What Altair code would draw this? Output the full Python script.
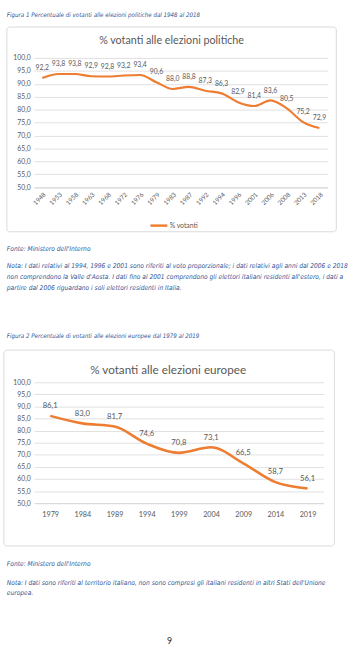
import altair as alt
import pandas as pd

# ---------------- data ----------------
anni_politiche = ["1948", "1953", "1958", "1963", "1968", "1972", "1976", "1979", "1983",
                  "1987", "1992", "1994", "1996", "2001", "2006", "2008", "2013", "2018"]
votanti_politiche = [92.2, 93.8, 93.8, 92.9, 92.8, 93.2, 93.4, 90.6, 88.0,
                     88.8, 87.3, 86.3, 82.9, 81.4, 83.6, 80.5, 75.2, 72.9]

anni_europee = ["1979", "1984", "1989", "1994", "1999", "2004", "2009", "2014", "2019"]
votanti_europee = [86.1, 83.0, 81.7, 74.6, 70.8, 73.1, 66.5, 58.7, 56.1]

serie = "% votanti"
y_ticks = [50, 55, 60, 65, 70, 75, 80, 85, 90, 95, 100]

didascalia1 = "Figura 1 Percentuale di votanti alle elezioni politiche dal 1948 al 2018"
titolo1 = "% votanti alle elezioni politiche"
fonte = "Fonte: Ministero dell'Interno"
nota1 = [
    "Nota: I dati relativi al 1994, 1996 e 2001 sono riferiti al voto proporzionale; i dati relativi agli anni dal 2006 e 2018",
    "non comprendono la Valle d'Aosta. I dati fino al 2001 comprendono gli elettori italiani residenti all'estero, i dati a",
    "partire dal 2006 riguardano i soli elettori residenti in Italia.",
]
didascalia2 = "Figura 2 Percentuale di votanti alle elezioni europee dal 1979 al 2019"
titolo2 = "% votanti alle elezioni europee"
nota2 = [
    "Nota: I dati sono riferiti al territorio italiano, non sono compresi gli italiani residenti in altri Stati dell'Unione",
    "europea.",
]
numero_pagina = "9"

# ---------------- styles ----------------
GRIGIO = "#595959"
GRIGLIA = "#D9D9D9"
BLU_TESTO = "#2F5496"
FONT_CHART = "Lato"
FONT_TESTO = "Liberation Sans Narrow, DejaVu Sans Condensed, Liberation Sans, sans-serif"
LABEL_EXPR = "replace(format(datum.value, '.1f'), '.', ',')"


def testo(t, x, y, size, color, font, style="normal", align="left", weight="normal"):
    return alt.Chart(alt.Data(values=[{"k": 0}])).mark_text(
        text=t, align=align, baseline="middle", fontSize=size, color=color,
        font=font, fontStyle=style, fontWeight=weight
    ).encode(x=alt.value(x), y=alt.value(y))


def cornice(x1, x2, y1, y2):
    return alt.Chart(alt.Data(values=[{"k": 0}])).mark_rect(
        fillOpacity=0, stroke=GRIGLIA, strokeWidth=1, cornerRadius=3
    ).encode(x=alt.value(x1), x2=alt.value(x2), y=alt.value(y1), y2=alt.value(y2))


def pannello(anni, valori, colore, w, h, angolo, xfs, lfs, legx, legy, lw):
    df = pd.DataFrame({"anno": anni, "votanti": valori, "serie": serie})
    base = alt.Chart(df).encode(
        x=alt.X("anno:O", sort=None, scale=alt.Scale(type="point", padding=0.5),
                axis=alt.Axis(title=None, labelAngle=angolo, labelFontSize=xfs,
                              labelColor=GRIGIO, labelFont=FONT_CHART, ticks=False,
                              domain=True, domainColor=GRIGLIA, grid=False,
                              labelPadding=4 if angolo else 8)),
        y=alt.Y("votanti:Q", scale=alt.Scale(domain=[50, 100], nice=False, zero=False),
                axis=alt.Axis(title=None, values=y_ticks, labelExpr=LABEL_EXPR,
                              labelFontSize=7, labelColor=GRIGIO, labelFont=FONT_CHART,
                              ticks=False, domain=False, grid=True, gridColor=GRIGLIA,
                              gridWidth=0.8, labelPadding=4)),
    )
    linea = base.mark_line(interpolate="monotone", strokeWidth=lw).encode(
        color=alt.Color("serie:N", scale=alt.Scale(range=[colore]),
                        legend=alt.Legend(orient="none", legendX=legx, legendY=legy,
                                          title=None, symbolType="stroke",
                                          symbolStrokeWidth=2.5, symbolSize=300,
                                          labelFontSize=lfs, labelColor=GRIGIO,
                                          labelFont=FONT_CHART, padding=0,
                                          labelOffset=1))
    )
    etichette = base.mark_text(dy=-10, fontSize=xfs + 0.5, color=GRIGIO, font=FONT_CHART).encode(
        text="lab:N"
    ).transform_calculate(lab="replace(format(datum.votanti, '.1f'), '.', ',')")
    return base, linea, etichette


# ---------------- chart 1 ----------------
W1, H1 = 301, 132.6
_, linea1, etich1 = pannello(anni_politiche, votanti_politiche, "#ED7D31", W1, H1,
                             -45, 6.5, 7, 118, 162, 2.2)
c1 = alt.layer(
    alt.Chart(alt.Data(values=[{"k": 0}])).mark_rect(opacity=0).encode(
        x=alt.value(-35), x2=alt.value(314), y=alt.value(-50.7), y2=alt.value(-45)),
    cornice(-28, 310, -31.7, 178.3),
    linea1,
    etich1,
    testo(didascalia1, -28, -43.7, 6.3, BLU_TESTO, FONT_TESTO, style="italic"),
    testo(titolo1, 141, -17.7, 11, GRIGIO, FONT_CHART, align="center"),
    testo(fonte, -28, 196.3, 6.8, BLU_TESTO, FONT_TESTO, style="italic"),
    testo(nota1[0], -28, 213.3, 6.8, BLU_TESTO, FONT_TESTO, style="italic"),
    testo(nota1[1], -28, 224.6, 6.8, BLU_TESTO, FONT_TESTO, style="italic"),
    testo(nota1[2], -28, 235.9, 6.8, BLU_TESTO, FONT_TESTO, style="italic"),
).properties(width=W1, height=H1)

# ---------------- chart 2 ----------------
W2, H2 = 297, 124
_, linea2, etich2 = pannello(anni_europee, votanti_europee, "#5B9BD5", W2, H2,
                             0, 7.4, 7.5, 114, 150, 2.6)
c2 = alt.layer(
    cornice(-31, 308, -33, 168),
    linea2,
    etich2,
    testo(didascalia2, -28, -47, 6.3, BLU_TESTO, FONT_TESTO, style="italic"),
    testo(titolo2, 137.5, -13, 12, GRIGIO, FONT_CHART, align="center"),
    testo(fonte, -28, 186, 6.8, BLU_TESTO, FONT_TESTO, style="italic"),
    testo(nota2[0], -28, 206, 6.8, BLU_TESTO, FONT_TESTO, style="italic"),
    testo(nota2[1], -28, 216.5, 6.8, BLU_TESTO, FONT_TESTO, style="italic"),
    testo(numero_pagina, 139, 265, 9, "#222222", FONT_CHART, align="center"),
).properties(width=W2, height=H2)

chart = alt.vconcat(c1, c2, spacing=199.7, bounds="flush").configure_view(
    stroke=None
).properties(padding=0, background="white")

chart.save("out.html", embed_options={"renderer": "svg", "actions": False})
